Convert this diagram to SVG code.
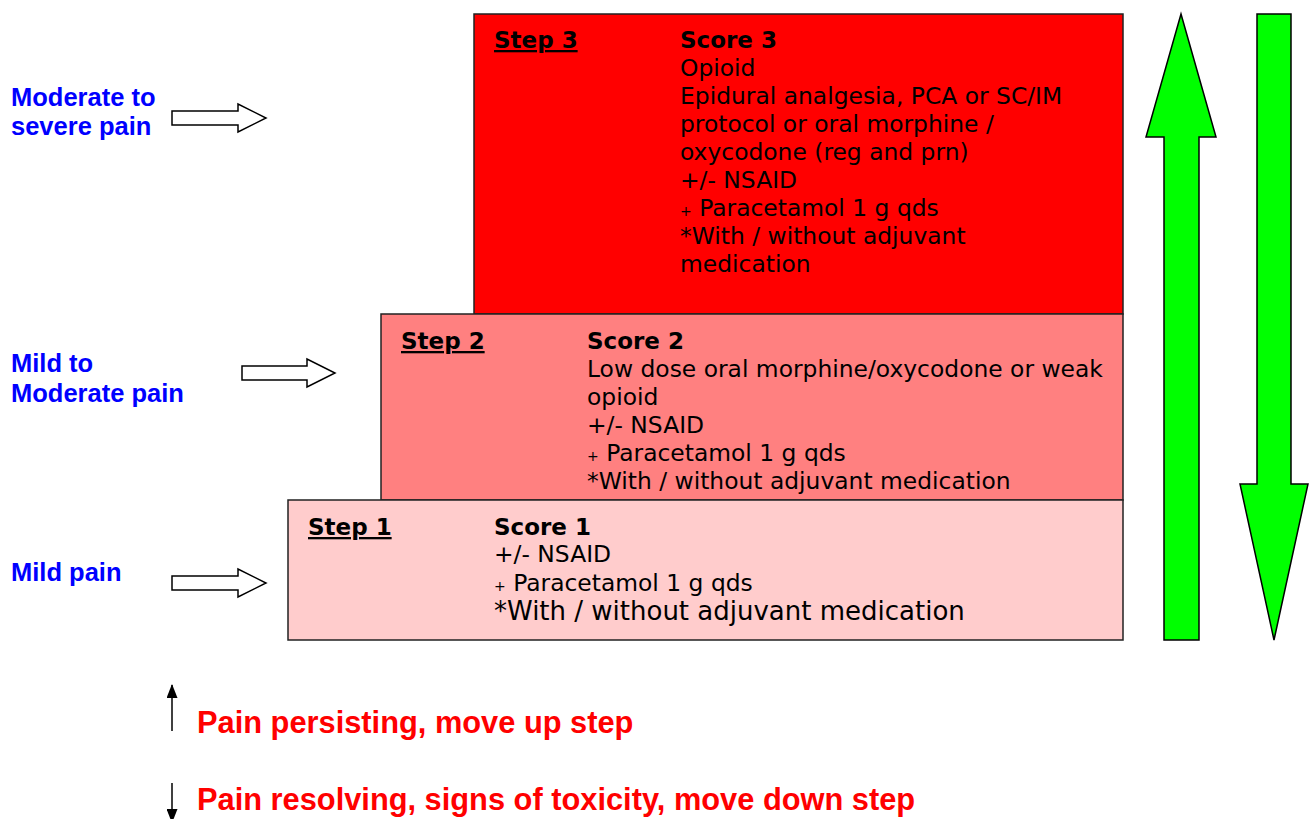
<svg xmlns="http://www.w3.org/2000/svg" width="1311" height="819" viewBox="0 0 1311 819">
<style>
.box{stroke:#222;stroke-width:1.5}
.t{font-family:"DejaVu Sans",Verdana,sans-serif;font-size:23.4px;fill:#000}
.b{font-weight:bold;font-size:23px}
.u{text-decoration:underline}
.sub{font-size:14px}
.lab{font-family:"Liberation Sans",Arial,sans-serif;font-weight:bold;font-size:25.5px;fill:#0000FF}
.red{font-family:"Liberation Sans",Arial,sans-serif;font-weight:bold;font-size:30.8px;fill:#FF0000}
.hollow{fill:#fff;stroke:#000;stroke-width:1.5}
.green{fill:#00FF00;stroke:#000;stroke-width:1.5}
</style>
<defs>
<marker id="ah" markerWidth="14" markerHeight="11" refX="13" refY="5.5" orient="auto" markerUnits="userSpaceOnUse"><path d="M0,0 L14,5.5 L0,11 z" fill="#000"/></marker>
</defs>
<rect width="1311" height="819" fill="#fff"/>
<g id="step3">
<rect class="box" x="474" y="14" width="649" height="300" fill="#FF0000"/>
<text class="t b u" x="494" y="48">Step 3</text>
<text class="t b" x="680" y="48">Score 3</text>
<text class="t" x="680" y="76">Opioid</text>
<text class="t" x="680" y="104">Epidural analgesia, PCA or SC/IM</text>
<text class="t" x="680" y="132">protocol or oral morphine /</text>
<text class="t" x="680" y="160">oxycodone (reg and prn)</text>
<text class="t" x="680" y="188">+/- NSAID</text>
<text class="t" x="680" y="216"><tspan class="sub">+</tspan> Paracetamol 1 g qds</text>
<text class="t" x="680" y="244">*With / without adjuvant</text>
<text class="t" x="680" y="272">medication</text>
</g>
<g id="step2">
<rect class="box" x="381" y="314" width="742" height="186" fill="#FF8080"/>
<text class="t b u" x="401" y="349">Step 2</text>
<text class="t b" x="587" y="349">Score 2</text>
<text class="t" x="587" y="377">Low dose oral morphine/oxycodone or weak</text>
<text class="t" x="587" y="405">opioid</text>
<text class="t" x="587" y="433">+/- NSAID</text>
<text class="t" x="587" y="461"><tspan class="sub">+</tspan> Paracetamol 1 g qds</text>
<text class="t" x="587" y="489">*With / without adjuvant medication</text>
</g>
<g id="step1">
<rect class="box" x="288" y="500" width="835" height="140" fill="#FFCCCC"/>
<text class="t b u" x="308" y="535">Step 1</text>
<text class="t b" x="494" y="535">Score 1</text>
<text class="t" x="494" y="562">+/- NSAID</text>
<text class="t" x="494" y="591"><tspan class="sub">+</tspan> Paracetamol 1 g qds</text>
<text class="t" x="494" y="620" style="font-size:26px">*With / without adjuvant medication</text>
</g>
<g id="labels">
<text class="lab" x="11" y="106">Moderate to</text>
<text class="lab" x="11" y="135">severe pain</text>
<text class="lab" x="11" y="372">Mild to</text>
<text class="lab" x="11" y="402">Moderate pain</text>
<text class="lab" x="11" y="581">Mild pain</text>
</g>
<g id="connectors">
<path class="hollow" d="M172,111 H238 V104 L266,118 L238,132 V125 H172 Z"/>
<path class="hollow" d="M242,366 H307 V359 L335,373 L307,387 V380 H242 Z"/>
<path class="hollow" d="M172,576 H238 V569 L266,583 L238,597 V590 H172 Z"/>
<path class="green" d="M1181,14 L1216,137 H1199 V640 H1164 V137 H1146 Z"/>
<path class="green" d="M1257,14 H1291 V484 H1308 L1274,640 L1240,484 H1257 Z"/>
<line x1="172" y1="731" x2="172" y2="685" stroke="#000" stroke-width="1.5" marker-end="url(#ah)"/>
<line x1="172" y1="783" x2="172" y2="822" stroke="#000" stroke-width="1.5" marker-end="url(#ah)"/>
</g>
<g id="legend">
<text class="red" x="197" y="733">Pain persisting, move up step</text>
<text class="red" x="197" y="810">Pain resolving, signs of toxicity, move down step</text>
</g>
</svg>
